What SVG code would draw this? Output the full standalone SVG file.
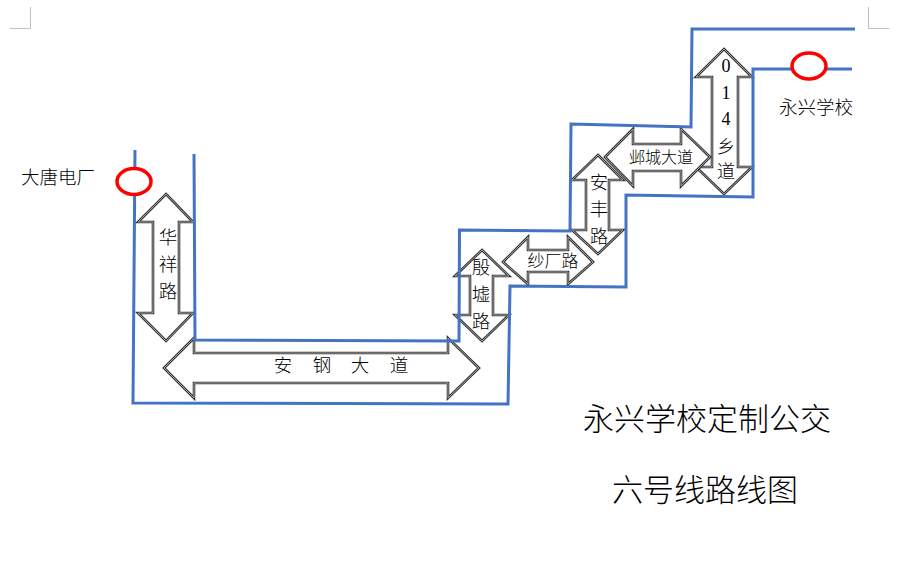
<svg xmlns="http://www.w3.org/2000/svg" width="920" height="574" viewBox="0 0 920 574">
<style>
.road{fill:none;stroke:#4472c4;stroke-width:3;stroke-linejoin:miter}
.crop{fill:none;stroke:#bfbfbf;stroke-width:1}
.ao{fill:#fff;stroke:#333;stroke-width:2.600;stroke-linejoin:miter}
.ai{fill:none;stroke:#b0b0b0;stroke-width:.9;stroke-linejoin:miter}
.stop{fill:#fff;stroke:#f00;stroke-width:3.500}
text{font-family:"Noto Sans CJK SC","Liberation Serif",serif;fill:#000;text-anchor:middle;dominant-baseline:central;font-weight:300}
.l{font-size:18.500px}
.s{font-size:17px}
.m{font-size:16px}
.t{font-size:31px}
.d{font-family:"Liberation Serif","Noto Sans CJK SC",serif;font-size:18px}
</style>
<rect width="920" height="574" fill="#fff"/>
<g id="crop-marks">
<path class="crop" d="M30.500 7V28.500H10"/>
<path class="crop" d="M868.500 7V28.500H889"/>
</g>
<g id="node-huaxiang"><polygon class="ao" points="166,194 193,222 179,222 179,313 193,313 166,341 138,313 153,313 153,222 138,222"/><polygon class="ai" points="166,194 193,222 179,222 179,313 193,313 166,341 138,313 153,313 153,222 138,222"/>
<text class="l" x="168" y="236">华</text><text class="l" x="168" y="263">祥</text><text class="l" x="168" y="290">路</text></g>
<g id="node-angang"><polygon class="ao" points="164,368 194,338 194,353 448,353 448,338 479,368 448,398 448,383 194,383 194,398"/><polygon class="ai" points="164,368 194,338 194,353 448,353 448,338 479,368 448,398 448,383 194,383 194,398"/>
<text class="l" x="283" y="364">安</text><text class="l" x="322" y="364">钢</text><text class="l" x="360" y="364">大</text><text class="l" x="399" y="364">道</text></g>
<g id="node-yinxu"><polygon class="ao" points="482,250 509,276 493,276 493,315 509,315 482,341 455,315 470,315 470,276 455,276"/><polygon class="ai" points="482,250 509,276 493,276 493,315 509,315 482,341 455,315 470,315 470,276 455,276"/>
<text class="l" x="481" y="266">殷</text><text class="l" x="481" y="293">墟</text><text class="l" x="481" y="320">路</text></g>
<g id="node-shachang"><polygon class="ao" points="503,262 528,237 528,250 568,250 568,237 593,262 568,284 568,272 528,272 528,284"/><polygon class="ai" points="503,262 528,237 528,250 568,250 568,237 593,262 568,284 568,272 528,272 528,284"/>
<text class="s" x="553" y="259">纱厂路</text></g>
<g id="node-anfeng"><polygon class="ao" points="598,155 623,180 609,180 609,230 623,230 598,254 572,230 586,230 586,180 572,180"/><polygon class="ai" points="598,155 623,180 609,180 609,230 623,230 598,254 572,230 586,230 586,180 572,180"/>
<text class="l" x="599" y="181">安</text><text class="l" x="599" y="208">丰</text><text class="l" x="599" y="235">路</text></g>
<g id="node-014"><polygon class="ao" points="724,49 752,77 738,77 738,167 752,167 724,194 696,167 712,167 712,77 696,77"/><polygon class="ai" points="724,49 752,77 738,77 738,167 752,167 724,194 696,167 712,167 712,77 696,77"/>
<text class="d" x="726" y="66">0</text><text class="d" x="726" y="93">1</text><text class="d" x="726" y="119">4</text><text class="l" x="726" y="145">乡</text><text class="l" x="726" y="170">道</text></g>
<g id="node-yecheng"><polygon class="ao" points="605,157 633,129 633,144 681,144 681,129 710,157 681,186 681,171 633,171 633,186"/><polygon class="ai" points="605,157 633,129 633,144 681,144 681,129 710,157 681,186 681,171 633,171 633,186"/>
<text class="m" x="661" y="156">邺城大道</text></g>
<g id="connectors">
<path class="road" d="M135 150L133 403L508 404L510 286L626 287L626 195L753 197L753 69L852 69"/>
<path class="road" d="M194 154L195 340L459 341L459.500 230L570 231L571 124L691 127L692 29L855 29"/>
</g>
<g id="node-datang"><ellipse class="stop" cx="134" cy="181.500" rx="17" ry="13"/>
<text class="l" x="58" y="176">大唐电厂</text></g>
<g id="node-yongxing"><ellipse class="stop" cx="809" cy="66" rx="17" ry="13"/>
<text class="l" x="816" y="106">永兴学校</text></g>
<g id="title">
<text class="t" x="707" y="416">永兴学校定制公交</text>
<text class="t" x="705" y="487">六号线路线图</text>
</g>
</svg>
